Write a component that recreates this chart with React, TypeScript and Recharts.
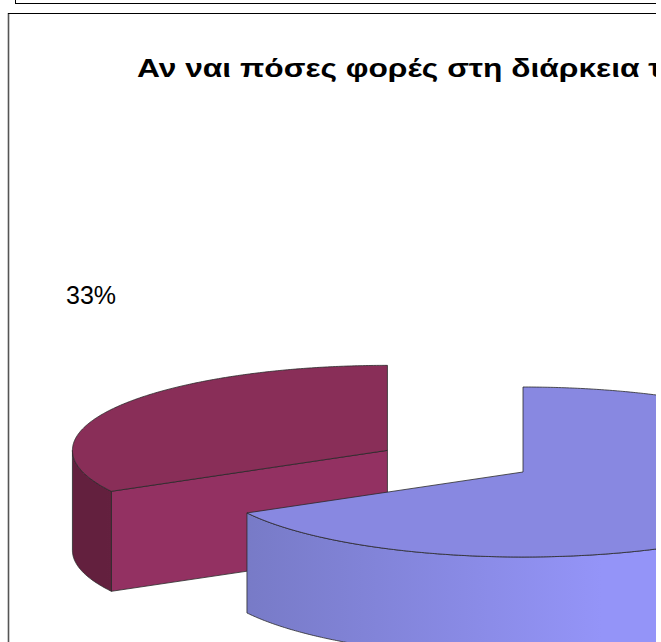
import React from 'react';
import { PieChart, Pie, Cell } from 'recharts';

const CATEGORIES = ['Μία φορά', 'Περισσότερες φορές'];
const VALUES = [33, 67];
const COLORS = ['#993366', '#9999FF'];
const TITLE = 'Αν ναι πόσες φορές στη διάρκεια της ημέρας;';

const data = CATEGORIES.map((name, i) => ({ name, value: VALUES[i] }));

const TILT = 85 / 315;
const DEPTH = 100;
const EXPLODED = CATEGORIES[0];
const EXPLODE = 0.5;
const FONT = '"Liberation Sans", Arial, sans-serif';

const SHADES: Record<string, any> = {
  '#993366': { top: '#892e58', cut: '#933162', sideA: '#63203e', sideB: '#7a2851' },
  '#9999FF': { top: '#8888e1', cut: '#8080d4', sideA: '#777ac6', sideB: '#9494f8' },
};

const rad = (d: number) => (d * Math.PI) / 180;

function pt(cx: number, cy: number, r: number, deg: number, dy = 0): [number, number] {
  const t = rad(deg);
  return [cx + r * Math.cos(t), cy - r * TILT * Math.sin(t) + dy];
}

function arc(cx: number, cy: number, r: number, s: number, e: number, dy = 0) {
  const n = Math.max(2, Math.ceil(Math.abs(e - s) * 2));
  const out: [number, number][] = [];
  for (let i = 0; i <= n; i++) out.push(pt(cx, cy, r, s + ((e - s) * i) / n, dy));
  return out;
}

const toPath = (pts: [number, number][]) =>
  pts.map((p, i) => `${i ? 'L' : 'M'}${p[0].toFixed(2)},${p[1].toFixed(2)}`).join(' ') + ' Z';

function offsetFor(props: any) {
  const { cx, cy, outerRadius: r, startAngle, endAngle, midAngle, payload, name } = props;
  const nm = (payload && payload.name) || name;
  const m = midAngle != null ? midAngle : (startAngle + endAngle) / 2;
  if (nm === EXPLODED) {
    return [cx + EXPLODE * r * Math.cos(rad(m)), cy - EXPLODE * r * TILT * Math.sin(rad(m))];
  }
  return [cx, cy];
}

const Slice3D = (props: any) => {
  const { outerRadius: r, startAngle, endAngle, fill, payload, name } = props;
  const nm = (payload && payload.name) || name || 'x';
  const s = Math.min(startAngle, endAngle);
  const e = Math.max(startAngle, endAngle);
  const [ox, oy] = offsetFor(props);
  const sh = SHADES[fill] || { top: fill, cut: fill, sideA: fill, sideB: fill };
  const stroke = '#2a2a2a';
  const sw = 0.8;
  const gid = 'side-' + CATEGORIES.indexOf(nm);

  const cuts: React.ReactNode[] = [];
  const face = (a: number, key: string) => {
    const p = pt(ox, oy, r, a);
    const pts: [number, number][] = [[ox, oy], p, [p[0], p[1] + DEPTH], [ox, oy + DEPTH]];
    cuts.push(<path key={key} d={toPath(pts)} fill={sh.cut} stroke={stroke} strokeWidth={sw} />);
  };
  if (Math.cos(rad(s)) > 1e-6) face(s, 'cs');
  if (Math.cos(rad(e)) < -1e-6) face(e, 'ce');

  const sides: React.ReactNode[] = [];
  for (let k = -1; k <= 2; k++) {
    const a = Math.max(s, 180 + 360 * k);
    const b = Math.min(e, 360 + 360 * k);
    if (b - a > 0.01) {
      const top = arc(ox, oy, r, a, b);
      const bot = arc(ox, oy, r, b, a, DEPTH);
      sides.push(
        <path key={'s' + k} d={toPath([...top, ...bot])} fill={`url(#${gid})`} stroke={stroke} strokeWidth={sw} />
      );
    }
  }

  const topPts: [number, number][] = [[ox, oy], ...arc(ox, oy, r, s, e)];

  return (
    <g>
      <defs>
        <linearGradient id={gid} gradientUnits="userSpaceOnUse" x1={ox - r * 0.9} y1={0} x2={ox + r * 0.25} y2={0}>
          <stop offset="0" stopColor={sh.sideA} />
          <stop offset="1" stopColor={sh.sideB} />
        </linearGradient>
      </defs>
      {cuts}
      {sides}
      <path d={toPath(topPts)} fill={sh.top} stroke={stroke} strokeWidth={sw} />
    </g>
  );
};

const renderLabel = (props: any) => {
  const { outerRadius: r, midAngle, percent } = props;
  const [ox, oy] = offsetFor(props);
  const x = ox + 1.093 * r * Math.cos(rad(midAngle));
  const y = oy - 3.6 * r * TILT * Math.sin(rad(midAngle));
  return (
    <text x={x} y={y} textAnchor="middle" dominantBaseline="central" fontSize={25} fontFamily={FONT} fill="#000">
      {`${Math.round(percent * 100)}%`}
    </text>
  );
};

export default function App() {
  return (
    <div style={{ position: 'absolute', left: 0, top: 0, width: 661, height: 642, background: '#fff', overflow: 'hidden' }}>
      <div style={{ position: 'absolute', left: 0, top: 0, width: 656, height: 642, overflow: 'hidden' }}>
        <svg width={656} height={642} style={{ position: 'absolute', left: 0, top: 0 }}>
          <line x1={15.5} y1={0} x2={15.5} y2={3.5} stroke="#000" strokeWidth={1} />
          <line x1={15} y1={3.5} x2={656} y2={3.5} stroke="#000" strokeWidth={1} />
          <line x1={8.5} y1={13} x2={8.5} y2={642} stroke="#555" strokeWidth={1.6} />
          <line x1={8} y1={13.5} x2={656} y2={13.5} stroke="#000" strokeWidth={1} />
          <text x={0} y={0} transform="translate(137,77) scale(1.27,1)" fontSize={25} fontWeight="bold" fontFamily={FONT} fill="#000">
            {TITLE}
          </text>
        </svg>
        <div style={{ position: 'absolute', left: 0, top: 0 }}>
          <PieChart width={656} height={642} margin={{ top: 0, right: 0, bottom: 0, left: 0 }}>
            <Pie
              data={data}
              dataKey="value"
              nameKey="name"
              cx={523}
              cy={472}
              innerRadius={0}
              outerRadius={315}
              startAngle={90}
              endAngle={450}
              stroke="none"
              isAnimationActive={false}
              label={renderLabel}
              labelLine={false}
              shape={Slice3D}
              activeShape={Slice3D}
              inactiveShape={Slice3D}
            >
              {data.map((d, i) => (
                <Cell key={d.name} fill={COLORS[i]} />
              ))}
            </Pie>
          </PieChart>
        </div>
      </div>
    </div>
  );
}
